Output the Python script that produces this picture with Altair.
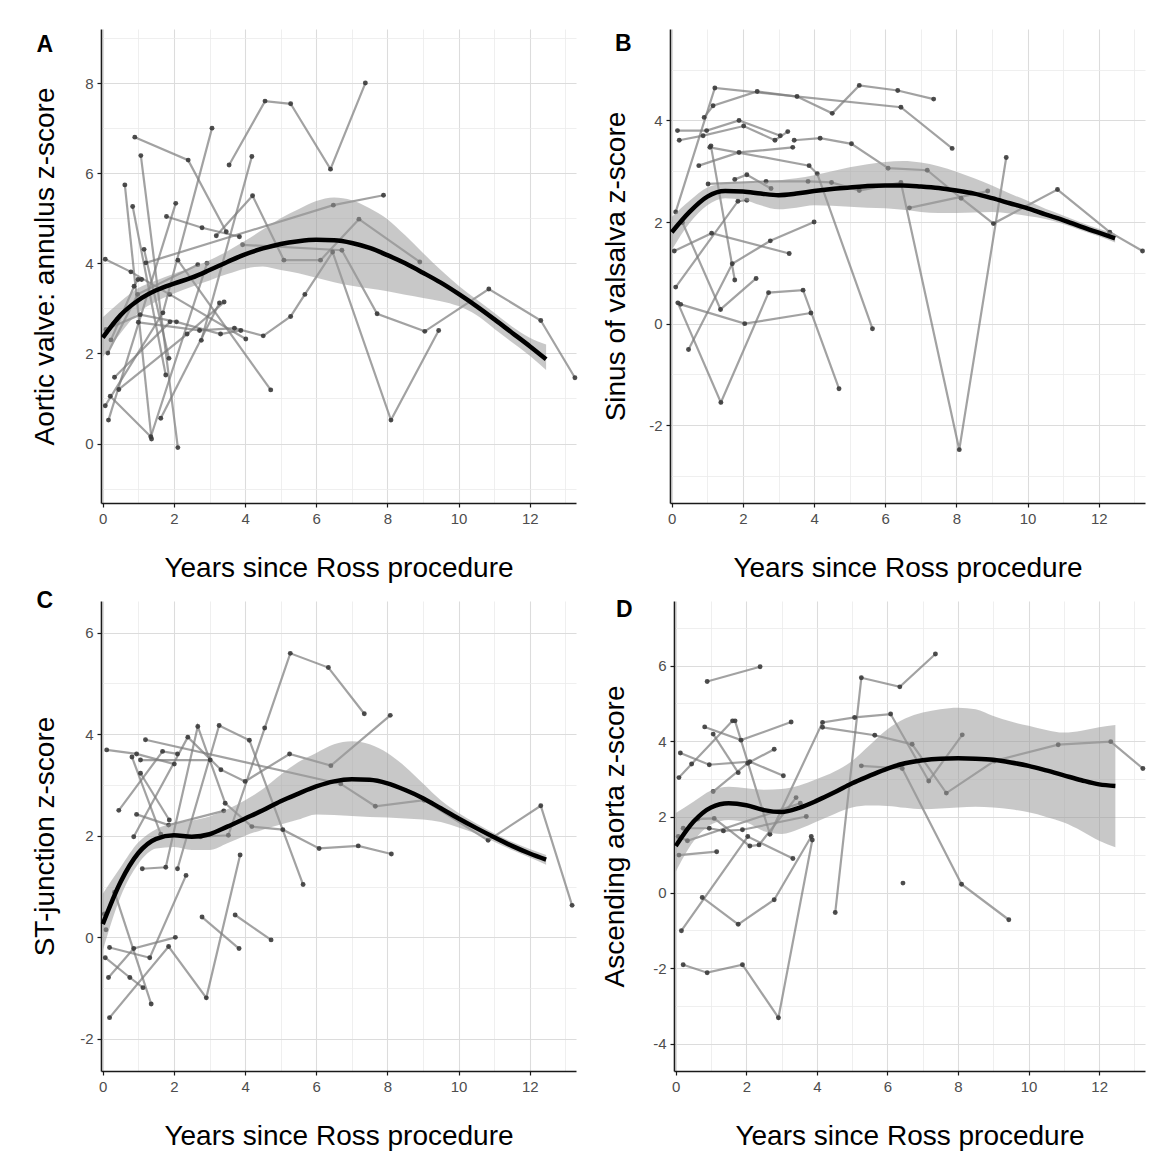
import altair as alt
import pandas as pd

FONT = "Liberation Sans"

# ---------------- Panel A: Aortic valve annulus ----------------
A_traj = [
    [(3.55, 6.18), (4.56, 7.60), (5.28, 7.54), (6.40, 6.09), (7.38, 8.00)],
    [(0.90, 6.80), (2.40, 6.29), (3.47, 4.70)],
    [(1.07, 6.39), (2.11, -0.09)],
    [(0.62, 5.74), (1.37, 0.10)],
    [(0.84, 5.26), (1.77, 1.52)],
    [(0.16, 0.52), (2.05, 5.33)],
    [(0.07, 0.84), (1.69, 2.90), (3.07, 7.00)],
    [(1.79, 5.04), (2.79, 4.79), (3.84, 4.59)],
    [(1.21, 4.01), (6.48, 5.29), (7.89, 5.51)],
    [(0.07, 4.09), (0.79, 3.81), (1.88, 3.31), (4.02, 2.32)],
    [(3.19, 4.61), (4.21, 5.50), (5.09, 4.07), (6.12, 4.07), (7.20, 4.98), (8.91, 4.03)],
    [(2.77, 2.29), (4.19, 6.37)],
    [(1.00, 2.69), (2.72, 2.51), (3.70, 2.56), (4.51, 2.39), (5.28, 2.82), (5.68, 3.31),
     (6.46, 4.25), (8.10, 0.52), (9.44, 2.51)],
    [(3.93, 4.41), (6.72, 4.29), (7.71, 2.88), (9.05, 2.49), (10.85, 3.43), (12.31, 2.73), (13.27, 1.46)],
    [(2.11, 4.07), (4.72, 1.19)],
    [(1.16, 4.31), (1.86, 1.89)],
    [(0.45, 1.20), (2.37, 2.43), (3.41, 3.14)],
    [(0.21, 1.05), (1.35, 0.15), (2.93, 4.00)],
    [(0.09, 2.53), (1.05, 2.86), (2.07, 2.70), (3.31, 2.43), (3.88, 2.51)],
    [(0.23, 2.30), (0.88, 3.49), (0.99, 3.64), (1.09, 3.64)],
    [(0.14, 2.01), (0.98, 3.31), (2.67, 3.97)],
    [(1.63, 0.56), (3.28, 3.12)],
    [(0.33, 1.47), (1.89, 2.70)],
]
A_sx = [0, 0.5, 1, 1.5, 2, 2.5, 3, 3.5, 4, 4.5, 5, 5.5, 6, 6.5, 7, 7.5, 8, 8.5, 9, 9.5, 10, 10.5, 11, 11.5, 12, 12.46]
A_sy = [2.35, 2.85, 3.18, 3.40, 3.55, 3.68, 3.85, 4.03, 4.20, 4.33, 4.43, 4.49, 4.52, 4.51, 4.45, 4.34,
        4.18, 4.00, 3.79, 3.57, 3.32, 3.05, 2.76, 2.46, 2.16, 1.87]
A_lo = [1.92, 2.45, 2.90, 3.15, 3.33, 3.48, 3.62, 3.76, 3.88, 3.93, 3.85, 3.78, 3.68, 3.58, 3.50, 3.44,
        3.38, 3.30, 3.23, 3.16, 3.05, 2.85, 2.55, 2.25, 1.95, 1.63]
A_hi = [2.80, 3.15, 3.45, 3.62, 3.77, 3.90, 4.07, 4.27, 4.50, 4.75, 5.00, 5.20, 5.38, 5.46, 5.40, 5.22,
        4.98, 4.62, 4.23, 3.85, 3.50, 3.20, 2.90, 2.60, 2.35, 2.20]

# ---------------- Panel B: Sinus of valsalva ----------------
B_traj = [
    [(0.11, 2.20), (1.21, 4.64), (6.44, 4.26), (7.88, 3.45)],
    [(0.91, 4.06), (1.16, 4.29), (2.40, 4.57), (3.52, 4.47), (4.51, 4.14), (5.27, 4.69), (6.35, 4.59), (7.36, 4.42)],
    [(0.16, 3.80), (0.98, 3.80), (1.89, 4.00), (3.05, 3.70)],
    [(0.21, 3.61), (0.88, 3.70), (2.02, 3.89), (2.90, 3.61), (3.26, 3.78)],
    [(3.44, 3.61), (4.17, 3.65), (5.05, 3.54), (6.08, 3.06), (7.18, 3.02), (8.13, 2.47), (9.04, 1.97),
     (10.84, 2.64), (12.31, 1.80), (13.23, 1.43)],
    [(1.02, 2.75), (2.65, 2.80), (3.83, 2.80), (4.49, 2.78), (5.27, 2.62), (6.44, 2.78), (8.08, -2.48), (9.40, 3.27)],
    [(6.68, 2.28), (8.88, 2.61)],
    [(0.76, 3.11), (1.89, 3.37), (3.40, 3.47)],
    [(1.07, 3.47), (3.86, 3.11), (4.09, 2.95), (5.64, -0.10)],
    [(1.77, 2.84), (2.11, 2.93), (2.79, 2.66)],
    [(0.30, 1.99), (1.37, 0.28), (2.37, 0.89)],
    [(0.07, 1.43), (1.12, 1.78), (3.30, 1.38)],
    [(0.11, 0.72), (1.86, 2.41), (2.11, 2.43)],
    [(0.47, -0.51), (1.70, 1.18), (2.77, 1.63), (4.00, 2.00)],
    [(0.17, 0.41), (1.38, -1.55), (2.72, 0.61), (3.69, 0.66), (4.70, -1.28)],
    [(0.25, 0.38), (2.05, 0.00), (3.91, 0.21)],
    [(1.10, 3.50), (1.77, 0.86)],
]
B_sx = A_sx
B_sy = [1.80, 2.20, 2.50, 2.61, 2.60, 2.56, 2.53, 2.56, 2.61, 2.65, 2.68, 2.71, 2.72, 2.72, 2.70, 2.67,
        2.62, 2.56, 2.47, 2.37, 2.27, 2.15, 2.04, 1.91, 1.79, 1.68]
B_lo = [1.45, 1.98, 2.33, 2.47, 2.44, 2.33, 2.25, 2.28, 2.33, 2.32, 2.30, 2.28, 2.27, 2.24, 2.20, 2.18,
        2.18, 2.19, 2.20, 2.17, 2.12, 2.06, 1.96, 1.84, 1.72, 1.60]
B_hi = [2.10, 2.42, 2.68, 2.76, 2.77, 2.78, 2.82, 2.86, 2.92, 3.00, 3.08, 3.14, 3.18, 3.20, 3.17, 3.10,
        2.99, 2.86, 2.72, 2.56, 2.42, 2.26, 2.13, 1.99, 1.87, 1.77]

# ---------------- Panel C: ST-junction ----------------
C_traj = [
    [(2.75, 1.98), (3.53, 2.01), (4.55, 4.12), (5.27, 5.59), (6.34, 5.31), (7.35, 4.40)],
    [(2.10, 1.35), (3.27, 4.17), (4.12, 3.88), (5.63, 1.04)],
    [(0.87, 1.98), (2.39, 3.94), (3.32, 3.30), (4.00, 3.07), (5.25, 3.61), (6.41, 3.38), (8.08, 4.37)],
    [(1.20, 3.89), (6.69, 3.02), (7.66, 2.58), (9.03, 2.70), (10.83, 1.91), (12.31, 2.59), (13.19, 0.63)],
    [(0.11, 3.69), (0.95, 3.61), (2.01, 3.41)],
    [(1.06, 3.49), (3.02, 3.49)],
    [(0.82, 3.55), (1.63, 2.03)],
    [(1.06, 3.23), (1.87, 2.31)],
    [(0.45, 2.50), (1.68, 3.66), (2.10, 3.61)],
    [(0.95, 2.42), (1.85, 2.21), (3.40, 2.49)],
    [(1.11, 1.35), (1.77, 1.38), (2.67, 4.15), (3.44, 2.64), (4.19, 2.18), (5.06, 2.12), (6.08, 1.75),
     (7.18, 1.80), (8.11, 1.64)],
    [(0.19, -1.58), (1.85, -0.18), (2.91, -1.19), (3.86, 1.62)],
    [(0.33, 0.89), (1.36, -1.31)],
    [(0.07, -0.40), (0.76, -0.79), (1.13, -0.99)],
    [(0.19, -0.20), (1.32, -0.40), (2.34, 1.22)],
    [(0.16, -0.79), (0.87, -0.22), (2.04, 0.00)],
    [(2.79, 0.40), (3.83, -0.22)],
    [(3.72, 0.44), (4.73, -0.05)],
    [(0.05, 0.46)],
    [(0.09, 0.15)],
]
C_sx = A_sx
C_sy = [0.26, 1.09, 1.66, 1.94, 2.01, 1.98, 2.03, 2.18, 2.34, 2.50, 2.68, 2.83, 2.97, 3.07, 3.11, 3.10,
        3.03, 2.90, 2.74, 2.54, 2.34, 2.15, 1.97, 1.80, 1.65, 1.53]
C_lo = [-0.26, 0.80, 1.45, 1.75, 1.78, 1.72, 1.72, 1.85, 2.00, 2.12, 2.22, 2.32, 2.42, 2.41, 2.39, 2.37,
        2.36, 2.34, 2.32, 2.27, 2.16, 2.04, 1.88, 1.72, 1.57, 1.43]
C_hi = [0.86, 1.38, 1.87, 2.13, 2.25, 2.30, 2.38, 2.52, 2.70, 2.92, 3.20, 3.45, 3.63, 3.80, 3.86, 3.80,
        3.63, 3.36, 3.03, 2.70, 2.45, 2.24, 2.05, 1.88, 1.74, 1.62]

# ---------------- Panel D: Ascending aorta ----------------
D_traj = [
    [(0.89, 5.58), (2.39, 5.97)],
    [(4.52, -0.53), (5.26, 5.68), (6.35, 5.44), (7.36, 6.31)],
    [(1.68, 4.54), (2.67, 1.54), (4.16, 4.50), (5.07, 4.63), (6.09, 4.72), (7.17, 2.95), (8.12, 4.17)],
    [(4.16, 4.37), (5.64, 4.16), (6.70, 3.92), (7.67, 2.63), (9.03, 3.48), (10.84, 3.91), (12.33, 3.99), (13.24, 3.28)],
    [(0.21, -1.91), (0.89, -2.12), (1.89, -1.91), (2.91, -3.31), (3.87, 1.39)],
    [(5.26, 3.35), (6.42, 3.28), (8.10, 0.22), (9.44, -0.72)],
    [(0.75, -0.13), (1.77, -0.84), (2.79, -0.19), (3.84, 1.48)],
    [(0.16, -1.01), (2.04, 1.48), (3.32, 0.90)],
    [(6.44, 0.25)],
    [(0.82, 4.38), (1.85, 4.03), (3.27, 4.51)],
    [(0.09, 3.04), (0.45, 3.40), (1.61, 4.54)],
    [(1.06, 4.19), (1.77, 3.17)],
    [(0.13, 3.69), (0.95, 3.38), (2.10, 3.46), (3.05, 3.09)],
    [(1.06, 2.67), (2.04, 3.42), (2.79, 3.79)],
    [(0.62, 1.94), (1.09, 1.96), (2.10, 1.23), (2.36, 1.26), (3.41, 2.51)],
    [(0.21, 1.70), (0.95, 1.70), (1.35, 1.63), (1.89, 1.66), (3.70, 2.01)],
    [(0.09, 0.99), (1.16, 1.08)],
    [(0.07, 1.48), (0.33, 1.37), (3.53, 2.36)],
]
D_sx = A_sx
D_sy = [1.23, 1.87, 2.25, 2.36, 2.31, 2.18, 2.13, 2.24, 2.43, 2.65, 2.89, 3.09, 3.28, 3.42, 3.50, 3.54,
        3.55, 3.54, 3.51, 3.44, 3.35, 3.23, 3.10, 2.97, 2.86, 2.82]
D_lo = [0.55, 1.35, 1.80, 1.92, 1.85, 1.62, 1.55, 1.68, 1.88, 2.08, 2.25, 2.30, 2.29, 2.24, 2.20, 2.22,
        2.25, 2.27, 2.25, 2.20, 2.12, 2.00, 1.85, 1.63, 1.37, 1.20]
D_hi = [2.10, 2.40, 2.70, 2.80, 2.76, 2.72, 2.74, 2.83, 3.00, 3.20, 3.48, 3.90, 4.32, 4.60, 4.76, 4.85,
        4.89, 4.85, 4.67, 4.52, 4.41, 4.30, 4.23, 4.28, 4.37, 4.43]

PANEL_LETTERS = ["A", "B", "C", "D"]
X_TITLE = "Years since Ross procedure"
X_DOMAIN = [-0.05, 13.3]
EVEN = "datum.value % 2 === 0"


def cond(a, b):
    return {"condition": {"test": EVEN, "value": a}, "value": b}


def make_axis(values, title, tpad):
    return alt.Axis(
        values=values,
        labelExpr=EVEN + " ? '' + datum.value : ''",
        title=title,
        titlePadding=tpad,
        gridColor=cond("#dcdcdc", "#ebebeb"),
        gridWidth=cond(1.1, 0.8),
        tickOpacity=cond(1, 0),
        labelOverlap=False,
        labelFlush=False,
    )


def panel(letter, traj, sx, sy, lo, hi, ydom, yvals, ytitle, ytp, w, h, ldx, ly, lead=None):
    rows = []
    for i, t in enumerate(traj):
        for j, (x, y) in enumerate(t):
            rows.append({"id": i, "ord": j, "x": x, "y": y})
    df = pd.DataFrame(rows)
    sm = pd.DataFrame({"x": sx, "y": sy, "lo": lo, "hi": hi})

    xs = alt.Scale(domain=X_DOMAIN, nice=False, zero=False)
    ys = alt.Scale(domain=ydom, nice=False, zero=False)
    xax = make_axis(list(range(0, 14)), X_TITLE, 28)
    yax = make_axis(yvals, ytitle, ytp)

    X = alt.X("x:Q", scale=xs, axis=xax)

    lines = alt.Chart(df).mark_line(color="#7a7a7a", opacity=0.7, strokeWidth=2.2).encode(
        x=X, y=alt.Y("y:Q", scale=ys, axis=yax), detail="id:N", order="ord:Q")
    pts = alt.Chart(df).mark_circle(color="#3a3a3a", size=24, opacity=0.9).encode(
        x=X, y=alt.Y("y:Q", scale=ys, axis=yax))
    band = alt.Chart(sm).mark_area(color="#9a9a9a", opacity=0.55, interpolate="monotone").encode(
        x=X, y=alt.Y("lo:Q", scale=ys, axis=yax), y2="hi:Q")
    smooth = alt.Chart(sm).mark_line(color="black", strokeWidth=4.5, interpolate="monotone").encode(
        x=X, y=alt.Y("y:Q", scale=ys, axis=yax))
    label = alt.Chart(pd.DataFrame({"t": [letter]})).mark_text(
        align="left", baseline="alphabetic", fontSize=23, fontWeight="bold", font=FONT, color="black"
    ).encode(x=alt.value(ldx), y=alt.value(ly), text="t:N")
    layers = [lines, pts, band, smooth, label]
    if lead is not None:
        # invisible spacer that fixes how far the panel reaches to the left
        spacer = alt.Chart(pd.DataFrame({"t": ["."]})).mark_text(
            align="left", baseline="middle", fontSize=10, opacity=0
        ).encode(x=alt.value(-lead), y=alt.value(h / 2), text="t:N")
        layers.append(spacer)

    return alt.layer(*layers).properties(width=w, height=h)


pA = panel(PANEL_LETTERS[0], A_traj, A_sx, A_sy, A_lo, A_hi, [-1.32, 9.2], list(range(-1, 10)),
           "Aortic valve: annulus z-score", 25, 475, 474, -64.5, 23, lead=80)
pB = panel(PANEL_LETTERS[1], B_traj, B_sx, B_sy, B_lo, B_hi, [-3.53, 5.8], list(range(-3, 6)),
           "Sinus of valsalva z-score", 18, 475, 474, -55, 22)
pC = panel(PANEL_LETTERS[2], C_traj, C_sx, C_sy, C_lo, C_hi, [-2.63, 6.62], list(range(-2, 7)),
           "ST-junction z-score", 20, 475, 470, -64.5, 7, lead=80)
pD = panel(PANEL_LETTERS[3], D_traj, D_sx, D_sy, D_lo, D_hi, [-4.72, 7.71], list(range(-4, 8)),
           "Ascending aorta z-score", 23, 471, 470, -58, 16)

row1 = alt.hconcat(pA, pB, spacing=22)
row2 = alt.hconcat(pC, pD, spacing=24)

chart = alt.concat(row1, row2, columns=1, align="none", spacing=8).properties(
    padding={"left": 13, "top": 21, "right": 2, "bottom": 2}
).configure_view(stroke=None).configure_axis(
    domainColor="#1a1a1a", domainWidth=1.6,
    tickColor="#1a1a1a", tickWidth=1.2, tickSize=4,
    labelFont=FONT, labelFontSize=15, labelColor="#4d4d4d", labelPadding=4,
    titleFont=FONT, titleFontSize=28, titleFontWeight="normal", titleColor="black",
)

chart.save("out.html", embed_options={"renderer": "svg", "actions": False})
